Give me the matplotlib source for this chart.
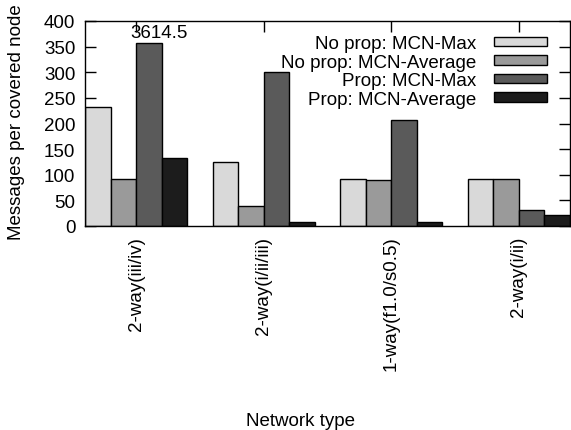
import matplotlib
matplotlib.use("Agg")
import matplotlib.pyplot as plt
from matplotlib.patches import Patch

categories = ["2-way(iii/iv)", "2-way(i/ii/iii)", "1-way(f1.0/s0.5)", "2-way(i/ii)"]
series_names = ["No prop: MCN-Max", "No prop: MCN-Average", "Prop: MCN-Max", "Prop: MCN-Average"]
noprop_max = [233, 124, 92, 92]
noprop_avg = [91, 39, 90, 91]
prop_max = [358, 300, 207, 31]
prop_avg = [132, 7, 8, 21]
series = [noprop_max, noprop_avg, prop_max, prop_avg]
colors = ["#d9d9d9", "#9a9a9a", "#5a5a5a", "#1c1c1c"]
annotation = "3614.5"

plt.rcParams['font.family'] = ['Liberation Sans', 'DejaVu Sans']
fs = 13.5

W, H = 571, 431
fig = plt.figure(figsize=(W / 100, H / 100), dpi=100)
ax = fig.add_axes([85 / W, 1 - 227 / H, (570 - 85) / W, (227 - 22) / H])

group_w = 5
for j, (vals, c, name) in enumerate(zip(series, colors, series_names)):
    xs = [i * group_w + j - 1.5 for i in range(len(categories))]
    ax.bar(xs, vals, width=1.0, color=c, edgecolor="black", linewidth=1.0,
           label=name, zorder=2)

ax.set_xlim(-2, (len(categories) - 1) * group_w + 2)
ax.set_ylim(0, 400)
ax.set_xticks([i * group_w for i in range(len(categories))])
ax.set_xticklabels(categories, rotation=90, fontsize=fs, va="top", ha="center")
ax.set_yticks(range(0, 401, 50))
ax.tick_params(axis="y", labelsize=fs, direction="in", length=8, width=1,
               right=True, pad=7)
ax.tick_params(axis="x", direction="in", length=8, width=1, top=True, pad=7)
for s in ax.spines.values():
    s.set_linewidth(1.0)
    s.set_zorder(5)

ax.text(-0.24, 377, annotation, fontsize=fs, ha="left", va="center")

handles = [Patch(facecolor=c, edgecolor="black", linewidth=1.0) for c in colors]
leg = ax.legend(handles, series_names, loc="upper right", fontsize=fs,
                frameon=False, markerfirst=False, handlelength=2.85,
                handleheight=0.4, labelspacing=0.08, handletextpad=0.95,
                borderaxespad=0.3, bbox_to_anchor=(0.98, 0.995))
for t in leg.get_texts():
    t.set_ha("right")

fig.text(17 / W, 1 - 122 / H, "Messages per covered node", rotation=90,
         fontsize=fs, ha="center", va="center")
fig.text(300 / W, 1 - 422 / H, "Network type", fontsize=fs, ha="center",
         va="center")

fig.savefig("out.png", dpi=100)
